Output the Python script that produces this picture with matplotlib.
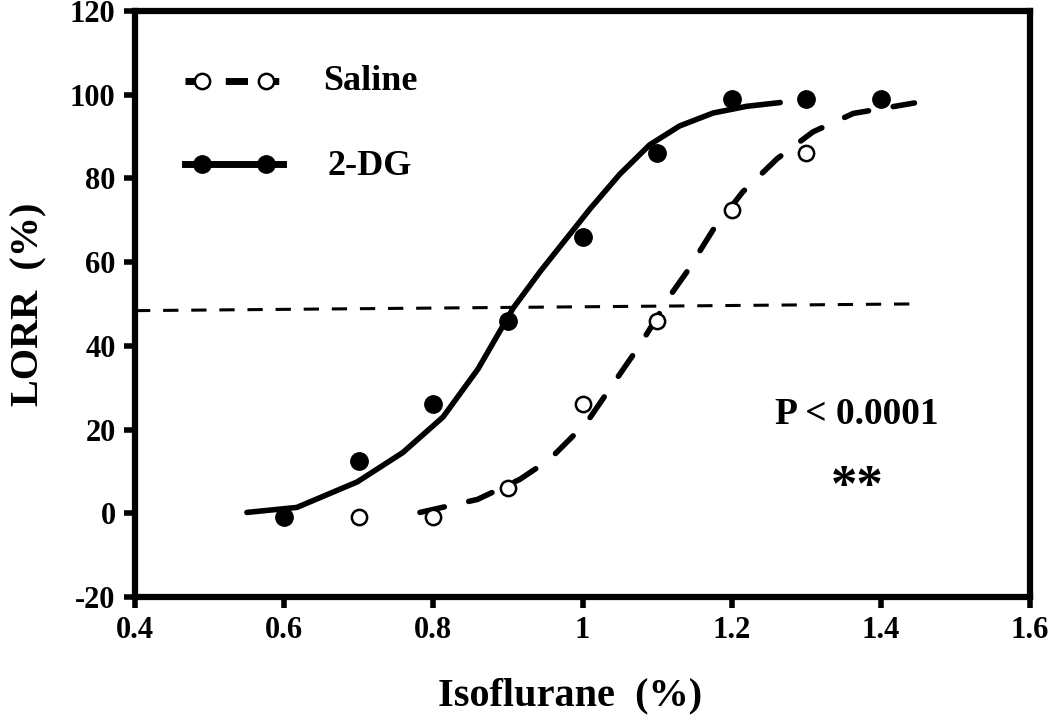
import matplotlib
matplotlib.use("Agg")
import matplotlib.pyplot as plt

plt.rcParams['font.family'] = ['Liberation Serif', 'DejaVu Serif']
plt.rcParams['font.weight'] = 'bold'
plt.rcParams['axes.unicode_minus'] = False

# measured points
dose = [0.6, 0.7, 0.8, 0.9, 1.0, 1.1, 1.2, 1.3, 1.4]
saline_dose = [0.7, 0.8, 0.9, 1.0, 1.1, 1.2, 1.3]
saline_lorr = [-1, -1, 6, 26, 46, 72.5, 86]
dg_lorr = [-1, 12.5, 26, 46, 66, 86, 99, 99, 99]

# fitted curves
saline_fit_x = [0.782, 0.859, 0.916, 0.956, 1.006, 1.041, 1.077, 1.121, 1.14, 1.175,
                1.215, 1.261, 1.309, 1.363, 1.445]
saline_fit_y = [0.2, 3.3, 8.1, 12.9, 21.8, 30.9, 40.2, 52.9, 57.7, 67.7,
                76.8, 84.7, 91.1, 95.5, 98.0]
dg_fit_x = [0.55, 0.617, 0.698, 0.759, 0.813, 0.86, 0.907, 0.943, 1.010, 1.05, 1.09,
            1.13, 1.175, 1.22, 1.265]
dg_fit_y = [0.2, 1.4, 7.5, 14.5, 23.0, 34.5, 49.0, 57.7, 72.7, 81.0, 88.0,
            92.5, 95.6, 97.2, 98.1]

# 50% reference line
ref_x = [0.4, 1.443]
ref_y = [48.4, 50.0]

xticks = [0.4, 0.6, 0.8, 1.0, 1.2, 1.4, 1.6]
xtick_labels = ['0.4', '0.6', '0.8', '1', '1.2', '1.4', '1.6']
yticks = [-20, 0, 20, 40, 60, 80, 100, 120]

fig = plt.figure(figsize=(10.5, 7.24), dpi=100)
ax = fig.add_axes([0.1286, 0.1754, 0.8524, 0.8096])

ax.plot(ref_x, ref_y, color='black', lw=2.2, dashes=(5, 4.2))
ax.plot(dg_fit_x, dg_fit_y, color='black', lw=4, solid_capstyle='round')
ax.plot(saline_fit_x, saline_fit_y, color='black', lw=4, dashes=(4.5, 4.5),
        dash_capstyle='round')

ax.plot(dose, dg_lorr, 'o', ms=12.5, mfc='black', mec='black', ls='none')
ax.plot(saline_dose, saline_lorr, 'o', ms=11, mfc='white', mec='black',
        mew=1.8, ls='none')

ax.set_xlim(0.4, 1.6)
ax.set_ylim(-20, 120)
ax.set_xticks(xticks)
ax.set_xticklabels(xtick_labels)
ax.set_yticks(yticks)

for s in ax.spines.values():
    s.set_linewidth(4.5)
ax.tick_params(axis='both', direction='out', length=8, width=4, labelsize=22, pad=6)
for lab in ax.get_xticklabels() + ax.get_yticklabels():
    lab.set_fontweight('bold')

ax.set_xlabel('Isoflurane  (%)', fontsize=29, fontweight='bold')
ax.xaxis.set_label_coords(0.486, -0.138)
ax.set_ylabel('LORR  (%)', fontsize=29, fontweight='bold')
ax.yaxis.set_label_coords(-0.098, 0.5)

ax.text(1.368, 23.5, 'P < 0.0001', fontsize=27, fontweight='bold', ha='center', va='center')
ax.text(1.368, 6.0, '**', fontsize=38, fontweight='bold', ha='center', va='center')

# hand-drawn legend, top left
tr = ax.transAxes
ax.plot([0.0559, 0.1654], [0.8805, 0.8805], transform=tr, color='black', lw=5,
        dashes=(2.6, 3.2, 3.2, 1.9), clip_on=False)
ax.plot([0.0749, 0.1464], [0.8805, 0.8805], transform=tr, ls='none', marker='o', ms=11,
        mfc='white', mec='black', mew=1.8, clip_on=False)
ax.plot([0.0559, 0.1654], [0.739, 0.739], transform=tr, color='black', lw=5,
        clip_on=False)
ax.plot([0.0749, 0.1464], [0.739, 0.739], transform=tr, ls='none', marker='o', ms=12.5,
        mfc='black', mec='black', clip_on=False)
ax.text(0.210, 0.879, 'Saline', transform=tr, fontsize=26, fontweight='bold', va='center')
ax.text(0.2145, 0.734, '2-DG', transform=tr, fontsize=26, fontweight='bold', va='center')

fig.savefig('out.png', dpi=100)
